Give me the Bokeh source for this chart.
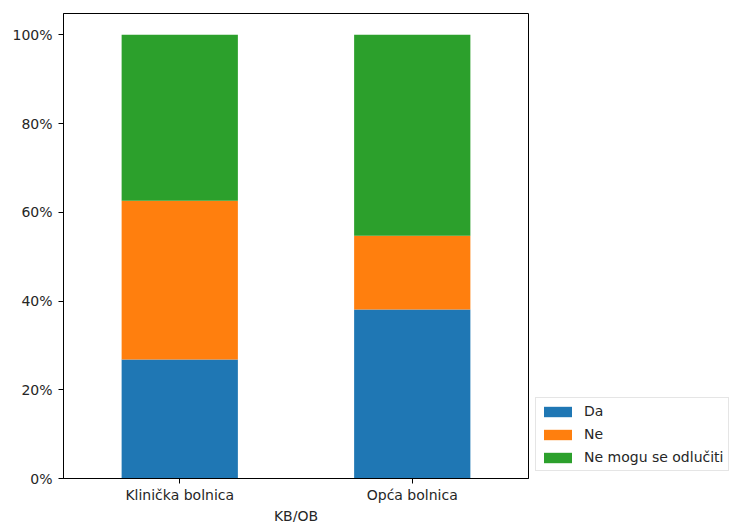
from bokeh.plotting import figure
from bokeh.models import FactorRange, Range1d, Legend, LegendItem, PrintfTickFormatter, FixedTicker
from bokeh.embed import file_html
from bokeh.resources import INLINE

categories = ["Klinička bolnica", "Opća bolnica"]
series = ["Da", "Ne", "Ne mogu se odlučiti"]
da = [26.8, 38.1]
ne = [35.8, 16.6]
ne_mogu = [37.4, 45.3]
colors = ["#1f77b4", "#ff7f0e", "#2ca02c"]
y_ticks = [0, 20, 40, 60, 80, 100]

FONT = "DejaVu Sans"
TXT = "#262626"

p = figure(x_range=FactorRange(*categories, range_padding=0),
           y_range=Range1d(0, 104.8),
           frame_width=465, frame_height=465,
           min_border_left=63, min_border_right=5,
           min_border_top=13, min_border_bottom=42,
           output_backend="svg", toolbar_location=None, tools="")

data = {"cat": categories, "Da": da, "Ne": ne, "Ne mogu se odlučiti": ne_mogu}
renderers = p.vbar_stack(series, x="cat", width=0.5, source=data,
                         color=colors, line_color=None)

p.xgrid.visible = False
p.ygrid.visible = False
p.outline_line_color = "black"
p.outline_line_width = 1
p.background_fill_color = "white"
p.border_fill_color = "white"

for ax in (p.xaxis[0], p.yaxis[0]):
    ax.axis_line_color = "black"
    ax.major_tick_line_color = "black"
    ax.major_tick_out = 5
    ax.major_tick_in = 0
    ax.minor_tick_line_color = None
    ax.major_label_text_font = FONT
    ax.major_label_text_font_size = "14px"
    ax.major_label_text_color = TXT

p.yaxis[0].major_label_standoff = 6
p.xaxis[0].major_label_standoff = 3
p.yaxis[0].ticker = FixedTicker(ticks=y_ticks)
p.yaxis[0].formatter = PrintfTickFormatter(format="%d%%")
p.xaxis[0].axis_label = "KB/OB"
p.xaxis[0].axis_label_text_font = FONT
p.xaxis[0].axis_label_text_font_size = "14px"
p.xaxis[0].axis_label_text_font_style = "normal"
p.xaxis[0].axis_label_text_color = TXT
p.xaxis[0].axis_label_standoff = 2
p.xaxis[0].major_label_orientation = "horizontal"

items = [LegendItem(label=s, renderers=[r]) for s, r in zip(series, renderers)]
legend = Legend(items=items, location="bottom_left", orientation="vertical",
                label_text_font=FONT, label_text_font_size="14px", label_text_color=TXT,
                glyph_width=35, glyph_height=13, label_height=18, label_standoff=9,
                spacing=5, padding=4, margin=7,
                border_line_color="#cccccc", border_line_width=1,
                background_fill_color="white", background_fill_alpha=1.0)
p.add_layout(legend, "right")

open("out.html", "w").write(file_html(p, INLINE))
